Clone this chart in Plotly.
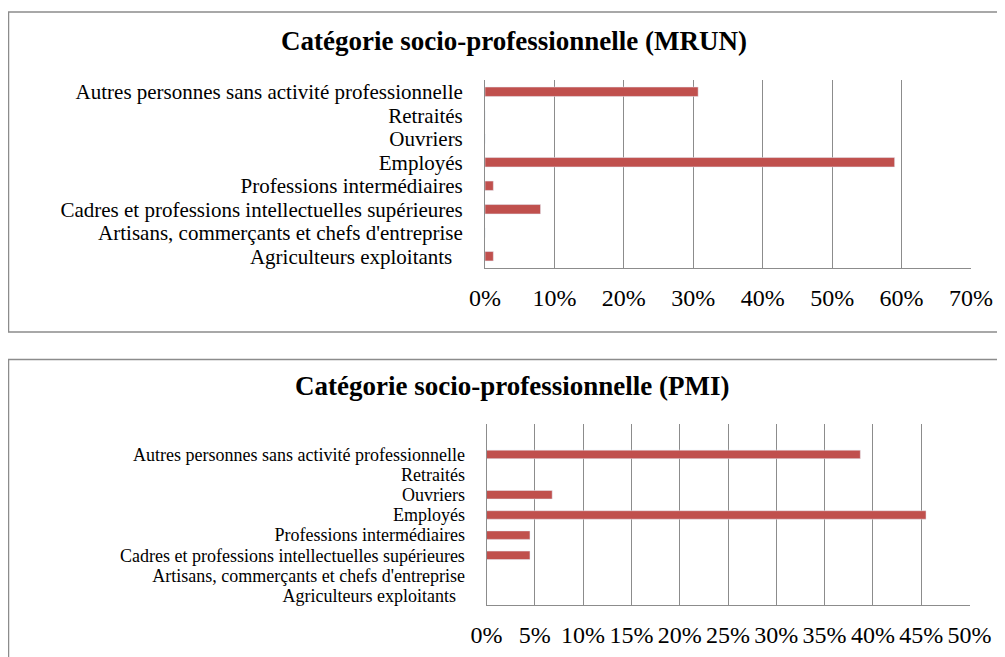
import plotly.graph_objects as go

categories = [
    "Agriculteurs exploitants\u00a0\u00a0",
    "Artisans, commerçants et chefs d'entreprise",
    "Cadres et professions intellectuelles supérieures",
    "Professions intermédiaires",
    "Employés",
    "Ouvriers",
    "Retraités",
    "Autres personnes sans activité professionnelle",
]
mrun_values = [0.012, 0.0, 0.080, 0.012, 0.590, 0.0, 0.0, 0.307]
pmi_values = [0.0, 0.0, 0.045, 0.045, 0.455, 0.068, 0.0, 0.387]

title_mrun = "Catégorie socio-professionnelle (MRUN)"
title_pmi = "Catégorie socio-professionnelle (PMI)"
ticks_mrun = [0, 0.1, 0.2, 0.3, 0.4, 0.5, 0.6, 0.7]
ticks_pmi = [0, 0.05, 0.1, 0.15, 0.2, 0.25, 0.3, 0.35, 0.4, 0.45, 0.5]

W, H = 1005, 657
OFF = 8  # page body margin
BAR = "#C0504D"
GRID = "#8C8C8C"
FONT = "Liberation Serif, Times New Roman, serif"


def px_x(x):
    return (x - OFF) / W


def px_y(y):
    return 1 - (y - OFF) / H


fig = go.Figure()
fig.add_trace(go.Bar(y=categories, x=mrun_values, orientation="h", marker_color=BAR,
                     width=0.4, xaxis="x", yaxis="y", showlegend=False))
fig.add_trace(go.Bar(y=categories, x=pmi_values, orientation="h", marker_color=BAR,
                     width=0.42, xaxis="x2", yaxis="y2", showlegend=False))

axis_common = dict(showgrid=True, gridcolor=GRID, gridwidth=1, showline=True,
                   linecolor=GRID, linewidth=1, zeroline=False, automargin=False,
                   tickfont=dict(family=FONT, size=24, color="black"),
                   tickformat=".0%", ticks="", ticklabelstandoff=8, fixedrange=True,
                   tickmode="array")
yaxis_common = dict(showline=True, linecolor=GRID, linewidth=1, showgrid=False,
                    zeroline=False, ticks="", ticklabelstandoff=17, automargin=False,
                    type="category", categoryorder="array", categoryarray=categories,
                    tickmode="array", tickvals=categories, ticktext=categories)

fig.update_layout(
    width=W, height=H, autosize=False,
    margin=dict(l=0, r=0, t=0, b=0, pad=0, autoexpand=False),
    paper_bgcolor="white", plot_bgcolor="white",
    bargap=0.5,
    xaxis=dict(domain=[px_x(485), px_x(971)], range=[0, 0.7], tickvals=ticks_mrun,
               anchor="y", **axis_common),
    yaxis=dict(domain=[px_y(268), px_y(80)], range=[-0.5, 7.5], anchor="x",
               tickfont=dict(family=FONT, size=21, color="black"), **yaxis_common),
    xaxis2=dict(domain=[px_x(486.5), px_x(969.5)], range=[0, 0.5], tickvals=ticks_pmi,
                anchor="y2", **axis_common),
    yaxis2=dict(domain=[px_y(605), px_y(423.5)], range=[-0.46, 8.53], anchor="x2",
                tickfont=dict(family=FONT, size=18, color="black"), **yaxis_common),
    shapes=[
        dict(type="rect", xref="paper", yref="paper", x0=px_x(8.5), x1=px_x(1030),
             y0=px_y(332), y1=px_y(12), line=dict(color="#8C8C8C", width=1.5)),
        dict(type="rect", xref="paper", yref="paper", x0=px_x(8.5), x1=px_x(1030),
             y0=px_y(700), y1=px_y(359.5), line=dict(color="#8C8C8C", width=1.5)),
    ],
    annotations=[
        dict(text="<b>" + title_mrun + "</b>", xref="paper", yref="paper",
             x=px_x(513.5), y=px_y(41), xanchor="center", yanchor="middle", showarrow=False,
             font=dict(family=FONT, size=27, color="black")),
        dict(text="<b>" + title_pmi + "</b>", xref="paper", yref="paper",
             x=px_x(512), y=px_y(386), xanchor="center", yanchor="middle", showarrow=False,
             font=dict(family=FONT, size=27, color="black")),
    ],
)

fig.write_html("out.html")
